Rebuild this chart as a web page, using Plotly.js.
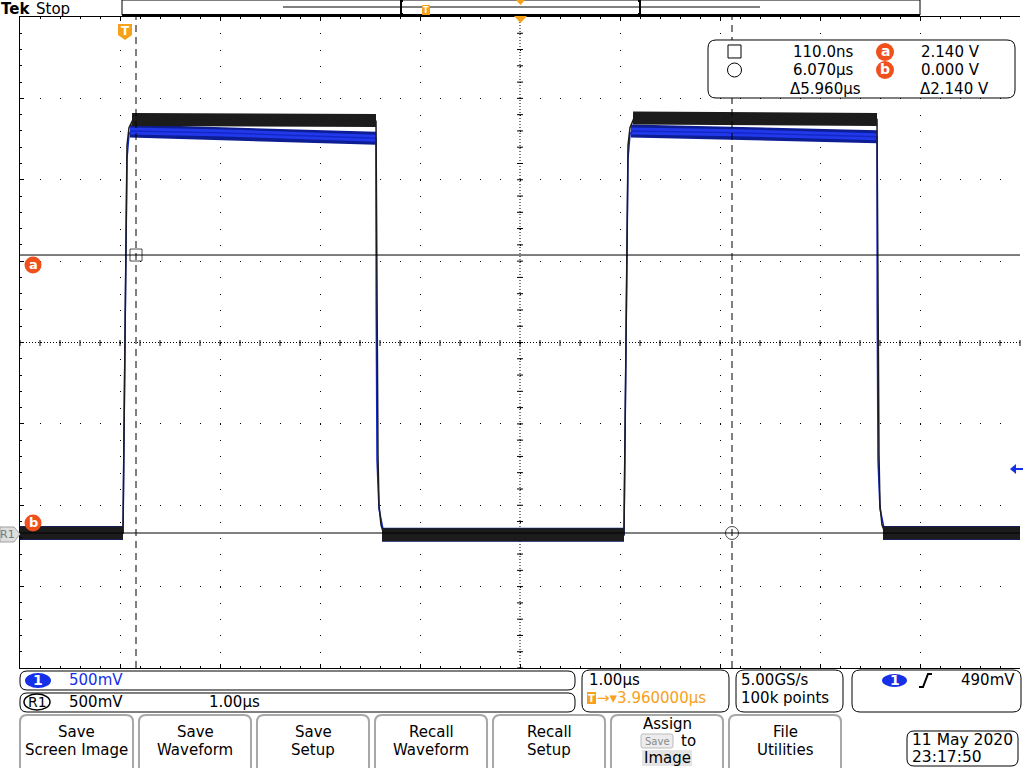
<!DOCTYPE html>
<html><head><meta charset="utf-8">
<script src="https://cdn.plot.ly/plotly-3.0.1.min.js"></script>
<style>html,body{margin:0;padding:0;background:#fff;overflow:hidden}#chart{width:1024px;height:768px}</style>
</head><body><div id="chart"></div>
<script>
// ---- DATA (time in µs relative to trigger, amplitude in V) ----
// Reference waveform R1 (black trace)
const r1Time  = [-1.05, -0.02, 0.00, 0.02, 0.04, 0.08, 2.51, 2.52, 2.53, 2.54, 2.56, 2.59, 4.99, 5.01, 5.03, 5.05, 5.09, 7.52, 7.53, 7.54, 7.55, 7.57, 7.60, 8.95];
const r1Volts = [0.00, 0.00, 1.19, 2.38, 2.49, 2.54, 2.53, 1.43, 0.48, 0.17, 0.05, -0.01, -0.01, 1.19, 2.38, 2.49, 2.55, 2.54, 1.43, 0.48, 0.17, 0.05, 0.00, 0.00];
// R1 noise envelope (flat portions)
const r1BandTime  = [-1.05, -0.02, null, 0.07, 2.51, null, 2.57, 4.99, null, 5.08, 7.52, null, 7.58, 8.95];
const r1BandVolts = [0.00, 0.00, null, 2.54, 2.535, null, -0.01, -0.01, null, 2.55, 2.54, null, 0.00, 0.00];
// Channel 1 (blue trace)
const ch1Time  = [-1.05, -0.02, 0.00, 0.02, 0.04, 0.06, 0.90, 2.51, 2.512, 2.52, 2.54, 2.59, 4.99, 5.01, 5.03, 5.05, 5.07, 6.10, 7.52, 7.522, 7.53, 7.55, 7.60, 8.95];
const ch1Volts = [0.00, 0.00, 1.19, 2.30, 2.45, 2.47, 2.46, 2.425, 1.40, 0.45, 0.15, -0.01, -0.01, 1.19, 2.30, 2.45, 2.47, 2.46, 2.435, 1.40, 0.45, 0.15, 0.00, 0.00];
// Channel 1 noise envelope
const ch1TopTime   = [0.05, 0.90, 2.51, null, 5.06, 6.10, 7.52];
const ch1TopVolts  = [2.47, 2.46, 2.425, null, 2.47, 2.46, 2.435];
const ch1BaseTime  = [-1.05, -0.02, null, 2.57, 4.99, null, 7.58, 8.95];
const ch1BaseVolts = [0.00, 0.00, null, -0.01, -0.01, null, 0.00, 0.00];
// Cursors
const cursorTime  = [0.11, 6.07];
const cursorVolts = [1.708, 0.00];
const cursorSymbols = ['square-open', 'circle-open'];
// Readout texts
const readTime = ['110.0ns', '6.070µs', 'Δ5.960µs'];
const readVolt = ['2.140 V', '0.000 V', 'Δ2.140 V'];
const buttons = [['Save', 'Screen Image'], ['Save', 'Waveform'], ['Save', 'Setup'], ['Recall', 'Waveform'], ['Recall', 'Setup'], null, ['File', 'Utilities']];

// ---- helpers (pixel -> paper) ----
const px = x => (x - 20) / 1000;
const py = y => (668 - y) / 651;
const F = 'DejaVu Sans';
const S = [], A = [];
const P = (x, y) => px(x).toFixed(5) + ',' + py(y).toFixed(5);
function rr(x0, y0, x1, y1, r) {
  return 'M' + P(x0 + r, y0) + ' L' + P(x1 - r, y0) + ' Q' + P(x1, y0) + ' ' + P(x1, y0 + r) +
    ' L' + P(x1, y1 - r) + ' Q' + P(x1, y1) + ' ' + P(x1 - r, y1) + ' L' + P(x0 + r, y1) +
    ' Q' + P(x0, y1) + ' ' + P(x0, y1 - r) + ' L' + P(x0, y0 + r) + ' Q' + P(x0, y0) + ' ' + P(x0 + r, y0) + ' Z';
}
function R(x0, y0, x1, y1, r, o = {}) {
  S.push({type: 'path', xref: 'paper', yref: 'paper', path: rr(x0, y0, x1, y1, r), layer: 'above',
    line: {color: o.lc || '#000', width: o.lw === undefined ? 1 : o.lw}, fillcolor: o.fc || 'rgba(0,0,0,0)'});
}
function poly(pts, o = {}) {
  S.push({type: 'path', xref: 'paper', yref: 'paper', layer: 'above',
    path: 'M' + pts.map(p => P(p[0], p[1])).join(' L') + (o.open ? '' : ' Z'),
    line: {color: o.lc || '#000', width: o.lw === undefined ? 1 : o.lw}, fillcolor: o.fc || 'rgba(0,0,0,0)'});
}
function LN(x0, y0, x1, y1, o = {}) {
  S.push({type: 'line', xref: 'paper', yref: 'paper', x0: px(x0), y0: py(y0), x1: px(x1), y1: py(y1), layer: 'above',
    line: {color: o.c || '#000', width: o.w || 1, dash: o.d || 'solid'}});
}
function CI(cx, cy, r, o = {}) {
  S.push({type: 'circle', xref: 'paper', yref: 'paper', x0: px(cx - r), x1: px(cx + r), y0: py(cy + r), y1: py(cy - r), layer: 'above',
    line: {color: o.lc || '#000', width: o.lw === undefined ? 1 : o.lw}, fillcolor: o.fc || 'rgba(0,0,0,0)'});
}
function EL(x0, y0, x1, y1, o = {}) {
  S.push({type: 'circle', xref: 'paper', yref: 'paper', x0: px(x0), x1: px(x1), y0: py(y1), y1: py(y0), layer: 'above',
    line: {color: o.lc || '#000', width: o.lw === undefined ? 1 : o.lw}, fillcolor: o.fc || 'rgba(0,0,0,0)'});
}
function T(x, y, s, o = {}) {
  A.push({xref: 'paper', yref: 'paper', x: px(x), y: py(y), text: s, showarrow: false,
    xanchor: o.a || 'left', yanchor: 'middle', borderpad: 0,
    font: {family: o.f || F, size: o.s || 15, color: o.c || '#000', weight: o.w || 'normal'}});
}
const ORANGE = '#f7a11a', RED = '#f0501c', BLUE = '#1530e6';

// ---- graticule centre lines and ticks ----
S.push({type: 'line', xref: 'paper', yref: 'paper', x0: 0, x1: 1, y0: 0.5, y1: 0.5, line: {color: '#000', width: 1, dash: '1px,2px'}, layer: 'below'});
S.push({type: 'line', xref: 'paper', yref: 'paper', x0: 0.5, x1: 0.5, y0: 0, y1: 1, line: {color: '#000', width: 1, dash: '1px,2px'}, layer: 'below'});
for (let i = 0; i <= 50; i++) { const x = 20 + i * 20; S.push({type: 'line', xref: 'paper', yref: 'paper', x0: px(x), x1: px(x), y0: py(340), y1: py(346), line: {color: '#000', width: 1}, layer: 'below'}); }
for (let j = 0; j <= 40; j++) { const y = 17 + j * 651 / 40; S.push({type: 'line', xref: 'paper', yref: 'paper', x0: px(517), x1: px(523), y0: py(y), y1: py(y), line: {color: '#000', width: 1}, layer: 'below'}); }

// ---- cursors ----
cursorVolts.forEach(v => S.push({type: 'line', xref: 'paper', yref: 'y', x0: 0, x1: 1, y0: v, y1: v, line: {color: '#000', width: 1}, layer: 'above'}));
cursorTime.forEach(t => S.push({type: 'line', xref: 'x', yref: 'paper', x0: t, x1: t, y0: 0, y1: 1, line: {color: '#000', width: 1, dash: '7px,5px'}, layer: 'above'}));

// ---- header ----
T(0, 9, 'Tek', {f: 'DejaVu Sans', s: 15, w: 'bold'});
T(35, 9, 'Stop', {s: 15});
R(122, 0, 920, 15, 0, {fc: '#fff', lw: 1});
LN(122, 15, 920, 15, {w: 2});
LN(283, 7, 760, 7);
poly([[403, 1], [401, 1], [401, 14], [403, 14]], {open: true, lw: 2});
poly([[638, 1], [640, 1], [640, 14], [638, 14]], {open: true, lw: 2});
poly([[422, 5], [430, 5], [430, 15], [422, 15]], {fc: ORANGE, lc: ORANGE, lw: 0});
T(426, 10, 'T', {a: 'center', s: 8, c: '#fff', w: 'bold'});
poly([[516, 0], [525, 0], [520.5, 5]], {fc: ORANGE, lc: ORANGE, lw: 0});
poly([[514, 16], [527, 16], [520.5, 23]], {fc: ORANGE, lc: ORANGE, lw: 0});
// trigger position badge
poly([[118, 24], [132, 24], [132, 35], [125, 40], [118, 35]], {fc: ORANGE, lc: ORANGE, lw: 0});
T(125, 31, 'T', {a: 'center', s: 12, c: '#fff', w: 'bold'});

// ---- cursor labels a / b ----
CI(33, 265, 8.5, {fc: RED, lc: RED, lw: 0});
T(33, 264, 'a', {a: 'center', s: 13, c: '#fff', w: 'bold'});
CI(33, 523, 8.5, {fc: RED, lc: RED, lw: 0});
T(33, 522, 'b', {a: 'center', s: 13, c: '#fff', w: 'bold'});

// ---- R1 tag & channel ground arrow ----
poly([[0, 527], [14, 527], [20, 534], [14, 542], [0, 542]], {fc: '#dedede', lc: '#a0a0a0', lw: 1});
T(7, 534, 'R1', {a: 'center', s: 11, c: '#777'});
poly([[1010, 469], [1016, 464], [1016, 474]], {fc: BLUE, lc: BLUE, lw: 0});
LN(1015, 469, 1023, 469, {c: BLUE, w: 2});

// ---- cursor readout box ----
R(708, 40, 1015, 98, 8, {fc: '#fff'});
poly([[728, 45], [741, 45], [741, 58], [728, 58]]);
CI(734.5, 70, 7);
CI(885, 52, 9, {fc: RED, lc: RED, lw: 0});
T(885, 51, 'a', {a: 'center', s: 14, c: '#fff', w: 'bold'});
CI(885, 70, 9, {fc: RED, lc: RED, lw: 0});
T(885, 69, 'b', {a: 'center', s: 14, c: '#fff', w: 'bold'});
T(854, 52, readTime[0], {a: 'right'});
T(854, 70, readTime[1], {a: 'right'});
T(862, 89, readTime[2], {a: 'right'});
T(981, 52, readVolt[0], {a: 'right'});
T(981, 70, readVolt[1], {a: 'right'});
T(990, 89, readVolt[2], {a: 'right'});

// ---- status boxes ----
R(20, 671, 575, 690, 7);
R(20, 693, 575, 712, 7);
EL(25, 673, 51, 688, {fc: BLUE, lc: BLUE, lw: 0});
T(38, 680, '1', {a: 'center', s: 14, c: '#fff', w: 'bold'});
T(68, 680, '500mV', {c: BLUE});
EL(24, 694, 50, 710, {lw: 1.5});
T(37, 702, 'R1', {a: 'center', s: 14});
T(68, 702, '500mV');
T(208, 702, '1.00µs');

R(582, 670, 729, 712, 8);
T(588, 680, '1.00µs');
poly([[587, 692], [596, 692], [596, 704], [587, 704]], {fc: ORANGE, lc: ORANGE, lw: 0});
T(591.5, 698, 'T', {a: 'center', s: 10, c: '#fff', w: 'bold'});
T(596, 698, '→▾3.960000µs', {c: ORANGE});

R(736, 670, 843, 712, 8);
T(740, 680, '5.00GS/s');
T(740, 698, '100k points');

R(852, 670, 1021, 712, 8);
EL(882, 674, 907, 687, {fc: BLUE, lc: BLUE, lw: 0});
T(894.5, 680, '1', {a: 'center', s: 14, c: '#fff', w: 'bold'});
poly([[919, 687], [923, 687], [928, 674], [932, 674]], {open: true, lw: 2});
T(1016, 680, '490mV', {a: 'right'});

// ---- soft buttons ----
const bx = [[20, 133], [139, 251], [257, 369], [375, 487], [493, 605], [611, 723], [729, 841]];
bx.forEach((b, i) => {
  R(b[0], 715, b[1], 785, 7, {lc: '#a8a8a8', lw: 2});
  const c = (b[0] + b[1]) / 2;
  if (buttons[i]) { T(c, 732, buttons[i][0], {a: 'center'}); T(c, 750, buttons[i][1], {a: 'center'}); }
});
T(667, 724, 'Assign', {a: 'center'});
R(641, 734, 673, 748, 2, {fc: '#ececec', lc: '#bdbdbd', lw: 1});
T(657, 741, 'Save', {a: 'center', s: 10, c: '#8a8a8a'});
T(680, 741, 'to');
poly([[642, 750], [692, 750], [692, 766], [642, 766]], {fc: '#e4e4e4', lc: '#e4e4e4', lw: 0});
T(667, 758, 'Image', {a: 'center'});

// ---- date box ----
R(907, 731, 1018, 766, 7);
T(911, 740, '11 May 2020', {s: 15.5});
T(911, 757, '23:17:50', {s: 15.5});

// ---- traces ----
const traces = [
  {x: ch1BaseTime, y: ch1BaseVolts, mode: 'lines', line: {color: '#14248e', width: 14}, connectgaps: false},
  {x: ch1TopTime, y: ch1TopVolts, mode: 'lines', line: {color: '#0d1d94', width: 13}, connectgaps: false},
  {x: ch1TopTime, y: ch1TopVolts, mode: 'lines', line: {color: '#2139ea', width: 7}, connectgaps: false},
  {x: ch1Time, y: ch1Volts, mode: 'lines', line: {color: '#1428c8', width: 1.5}},
  {x: r1BandTime, y: r1BandVolts, mode: 'lines', line: {color: '#1c1c1c', width: 13}, connectgaps: false},
  {x: r1Time, y: r1Volts, mode: 'lines', line: {color: '#1c1c1c', width: 1.5}},
  {x: cursorTime, y: cursorVolts, mode: 'markers', marker: {symbol: cursorSymbols, size: [12, 13], color: '#000', line: {width: 1, color: '#000'}}}
];

const layout = {
  width: 1024, height: 768,
  margin: {l: 20, r: 4, t: 17, b: 100, pad: 0},
  paper_bgcolor: '#fff', plot_bgcolor: '#fff',
  showlegend: false, hovermode: false,
  xaxis: {range: [-1.05, 8.95], tick0: -0.05, dtick: 1, showgrid: true, gridcolor: '#000', gridwidth: 1, griddash: '1px,15.275px',
    zeroline: false, showline: true, linecolor: '#000', linewidth: 1, mirror: 'allticks', ticks: 'inside', ticklen: 4, tickcolor: '#000',
    showticklabels: false, fixedrange: true,
    minor: {tick0: -0.05, dtick: 0.2, ticks: 'inside', ticklen: 2, tickcolor: '#000', showgrid: false}},
  yaxis: {range: [-0.8295, 3.1705], tick0: 0.1705, dtick: 0.5, showgrid: true, gridcolor: '#000', gridwidth: 1, griddash: '1px,19px',
    zeroline: false, showline: true, linecolor: '#000', linewidth: 1, mirror: false, ticks: 'inside', ticklen: 4, tickcolor: '#000',
    showticklabels: false, fixedrange: true,
    minor: {tick0: 0.1705, dtick: 0.1, ticks: 'inside', ticklen: 2, tickcolor: '#000', showgrid: false}},
  shapes: S, annotations: A
};
Plotly.newPlot('chart', traces, layout, {staticPlot: true, displayModeBar: false});
</script>
</body></html>
